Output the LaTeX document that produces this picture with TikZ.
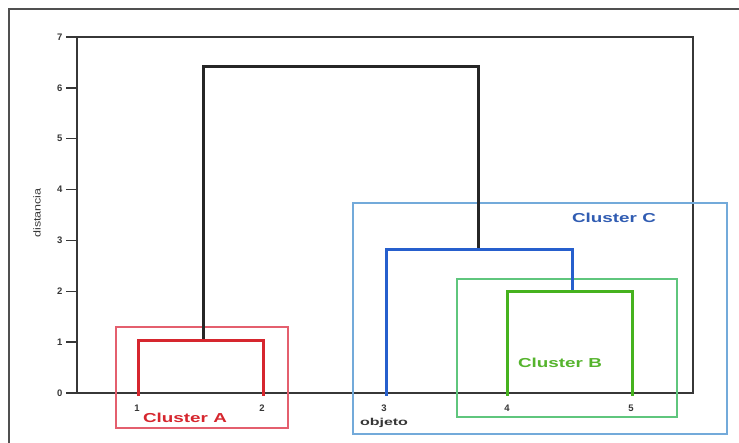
\documentclass[tikz,border=0pt]{standalone}
\usepackage{fontspec}
\setmainfont{Liberation Sans}
\definecolor{dred}{RGB}{214,38,46}
\definecolor{bred}{RGB}{228,95,110}
\definecolor{dblue}{RGB}{38,95,205}
\definecolor{bblue}{RGB}{115,170,218}
\definecolor{dgreen}{RGB}{70,178,30}
\definecolor{bgreen}{RGB}{95,198,125}
\definecolor{tgreen}{RGB}{85,180,45}
\definecolor{tblue}{RGB}{48,92,178}
\definecolor{frame}{RGB}{80,80,80}
\definecolor{axisc}{RGB}{55,55,55}
\newcommand{\widetxt}[2]{\scalebox{#1}[1]{#2}}
\begin{document}
\begin{tikzpicture}[x=1pt,y=-1pt,
  link/.style={line width=3pt,line cap=butt,line join=miter},
  cbox/.style={line width=1.1pt},
  axisline/.style={line width=1.3pt,draw=axisc},
  ticklab/.style={font=\bfseries\fontsize{9.5}{10}\selectfont,text=axisc,inner sep=0pt,anchor=east},
  leaflab/.style={font=\bfseries\fontsize{9.5}{10}\selectfont,text=axisc,inner sep=0pt},
  clab/.style={font=\bfseries\fontsize{13}{14}\selectfont,inner sep=0pt}]
\useasboundingbox (0,0) rectangle (739,443);
\fill[white] (0,0) rectangle (739,443);
% outer frame
\draw[frame,line width=2.2pt] (9,443) -- (9,9) -- (739,9);
% axes
\coordinate (o) at (77,393);
\coordinate (tl) at (77,37);
\coordinate (tr) at (693,37);
\coordinate (br) at (693,393);
\draw[axisline] (o) -- (tl) -- (tr) -- (br) -- (o);
\foreach \d in {0,...,7}{
  \coordinate (t\d) at (77,{393-50.85*\d});
  \draw[axisline] (t\d) -- ++(-11,0) node[ticklab,xshift=-3pt] (tl\d) {\d};
}
\node[font=\fontsize{10}{11}\selectfont,text=axisc,rotate=90,inner sep=0pt] (ylab) at (37,213) {\widetxt{1.25}{distancia}};
% boxes
\draw[cbox,bred] (116,327) rectangle (288,428);
\draw[cbox,bblue] (353,203) rectangle (727,434);
\draw[cbox,bgreen] (457,279) rectangle (677,417);
% leaves and merges
\coordinate (l1) at (138,396);
\coordinate (l2) at (263,396);
\coordinate (l3) at (386,396);
\coordinate (l4) at (507,396);
\coordinate (l5) at (632,396);
\coordinate (mA) at (203,341);
\coordinate (mB) at (572,292);
\coordinate (mC) at (478,250);
\coordinate (top) at (340,67);
\draw[link,black!85] (mA) |- (top) -| (mC);
\draw[link,dred] (l1) |- (mA) -| (l2);
\draw[link,dblue] (l3) |- (mC) -| (mB);
\draw[link,dgreen] (l4) |- (mB) -| (l5);
% leaf labels
\node[leaflab] (n1) at (137,408) {1};
\node[leaflab] (n2) at (262,408) {2};
\node[leaflab] (n3) at (384,408) {3};
\node[leaflab] (n4) at (507,408) {4};
\node[leaflab] (n5) at (631,408) {5};
\node[leaflab,font=\bfseries\fontsize{10}{11}\selectfont] (obj) at (384,423) {\widetxt{1.6}{objeto}};
% cluster labels
\node[clab,text=dred] (cA) at (185,418) {\widetxt{1.45}{Cluster A}};
\node[clab,text=tblue] (cC) at (614,218) {\widetxt{1.45}{Cluster C}};
\node[clab,text=tgreen] (cB) at (560,363) {\widetxt{1.45}{Cluster B}};
\end{tikzpicture}
\end{document}
